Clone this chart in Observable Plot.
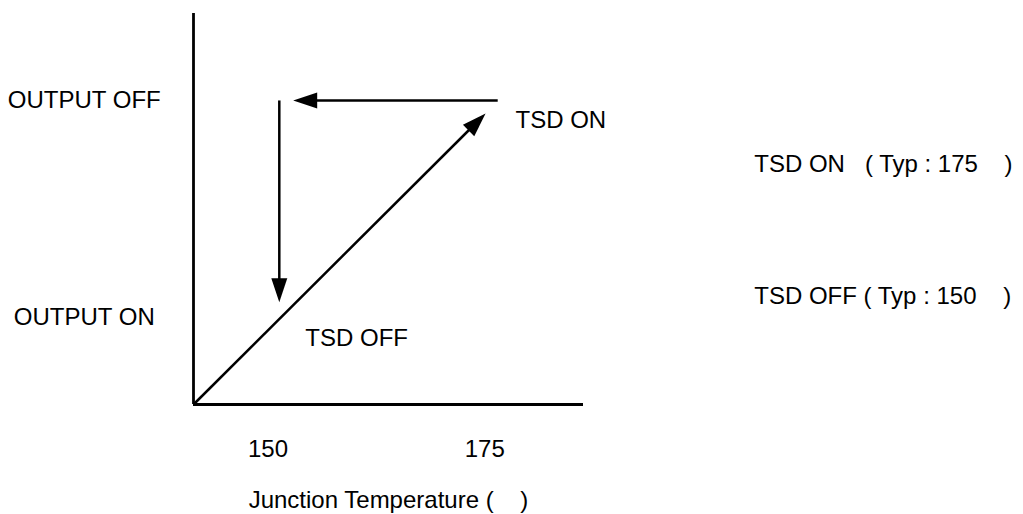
<!DOCTYPE html>
<html>
<head>
<meta charset="utf-8">
<script src="https://cdn.jsdelivr.net/npm/d3@7"></script>
<script src="https://cdn.jsdelivr.net/npm/@observablehq/plot@0.6"></script>
<style>
  html, body { margin: 0; padding: 0; background: #fff; }
  #chart { width: 1023px; height: 514px; }
</style>
</head>
<body>
<div id="chart"></div>
<script>
// Temperature axis (deg C) and output level (1 = OUTPUT OFF)
const tempDomain = [141.4, 186.4];
const levelDomain = [0, 1.286];
const tempTicks = [150, 175];

const outputStates = ["OUTPUT OFF", "OUTPUT ON"];
const outputLevels = [1, 0.288];
const outputLabelTemp = 128.8;

// Hysteresis arrows: rising, switching back, falling
const arrowFromTemp = [141.4, 176.5, 151.3];
const arrowFromLevel = [0, 1, 1];
const arrowToTemp = [175.1, 152.9, 151.3];
const arrowToLevel = [0.957, 1, 0.336];
const arrowAngles = [45, -90, 180];

const tsdLabels = ["TSD ON", "TSD OFF"];
const tsdLabelTemp = [178.55, 154.3];
const tsdLabelLevel = [0.935, 0.219];

const noteLabels = ["TSD ON\u00a0\u00a0\u00a0( Typ : 175\u00a0\u00a0\u00a0\u00a0)", "TSD OFF ( Typ : 150\u00a0\u00a0\u00a0\u00a0)"];
const noteTemp = 206.1;
const noteLevels = [0.789, 0.355];

const xTitle = "Junction Temperature (\u00a0\u00a0\u00a0\u00a0)";
const xTitleTemp = 163.9;
const xTitleLevel = -0.315;

const arrows = arrowFromTemp.map((t, i) => ({
  x1: t, y1: arrowFromLevel[i], x2: arrowToTemp[i], y2: arrowToLevel[i], angle: arrowAngles[i]
}));
const outputs = outputStates.map((s, i) => ({label: s, y: outputLevels[i], x: outputLabelTemp}));
const tsd = tsdLabels.map((s, i) => ({label: s, x: tsdLabelTemp[i], y: tsdLabelLevel[i]}));
const notes = noteLabels.map((s, i) => ({label: s, x: noteTemp, y: noteLevels[i]}));

// filled, elongated arrowhead with its tip at the origin, pointing up
const headSymbol = {
  draw(context) {
    const len = 24, half = 8;
    context.moveTo(0, 0);
    context.lineTo(half, len);
    context.lineTo(-half, len);
    context.closePath();
  }
};

const stroke = 2.5;
const chart = Plot.plot({
  width: 1023,
  height: 514,
  marginLeft: 193,
  marginRight: 440,
  marginTop: 13,
  marginBottom: 110,
  style: {
    fontFamily: "'Liberation Sans', Arial, Helvetica, sans-serif",
    fontSize: "24px",
    color: "black",
    background: "white"
  },
  x: {domain: tempDomain, axis: null},
  y: {domain: levelDomain, axis: null},
  marks: [
    Plot.ruleX([tempDomain[0]], {y1: levelDomain[0], y2: levelDomain[1], stroke: "black", strokeWidth: stroke + 0.3}),
    Plot.ruleY([levelDomain[0]], {x1: tempDomain[0], x2: tempDomain[1], stroke: "black", strokeWidth: stroke + 0.3}),
    Plot.arrow(arrows, {x1: "x1", y1: "y1", x2: "x2", y2: "y2", headLength: 0, insetEnd: 12, stroke: "black", strokeWidth: stroke, strokeLinecap: "butt"}),
    Plot.dot(arrows, {x: "x2", y: "y2", rotate: "angle", symbol: headSymbol, r: 5, fill: "black", stroke: "none"}),
    Plot.axisX({ticks: tempTicks, tickSize: 0, tickPadding: 35, label: null, tickFormat: d => String(d)}),
    Plot.text(outputs, {x: "x", y: "y", text: "label", textAnchor: "middle", lineAnchor: "middle"}),
    Plot.text(tsd, {x: "x", y: "y", text: "label", textAnchor: "start", lineAnchor: "middle"}),
    Plot.text(notes, {x: "x", y: "y", text: "label", textAnchor: "start", lineAnchor: "middle"}),
    Plot.text([xTitle], {x: xTitleTemp, y: xTitleLevel, text: d => d, textAnchor: "middle", lineAnchor: "middle"})
  ]
});
document.getElementById("chart").appendChild(chart);
</script>
</body>
</html>
